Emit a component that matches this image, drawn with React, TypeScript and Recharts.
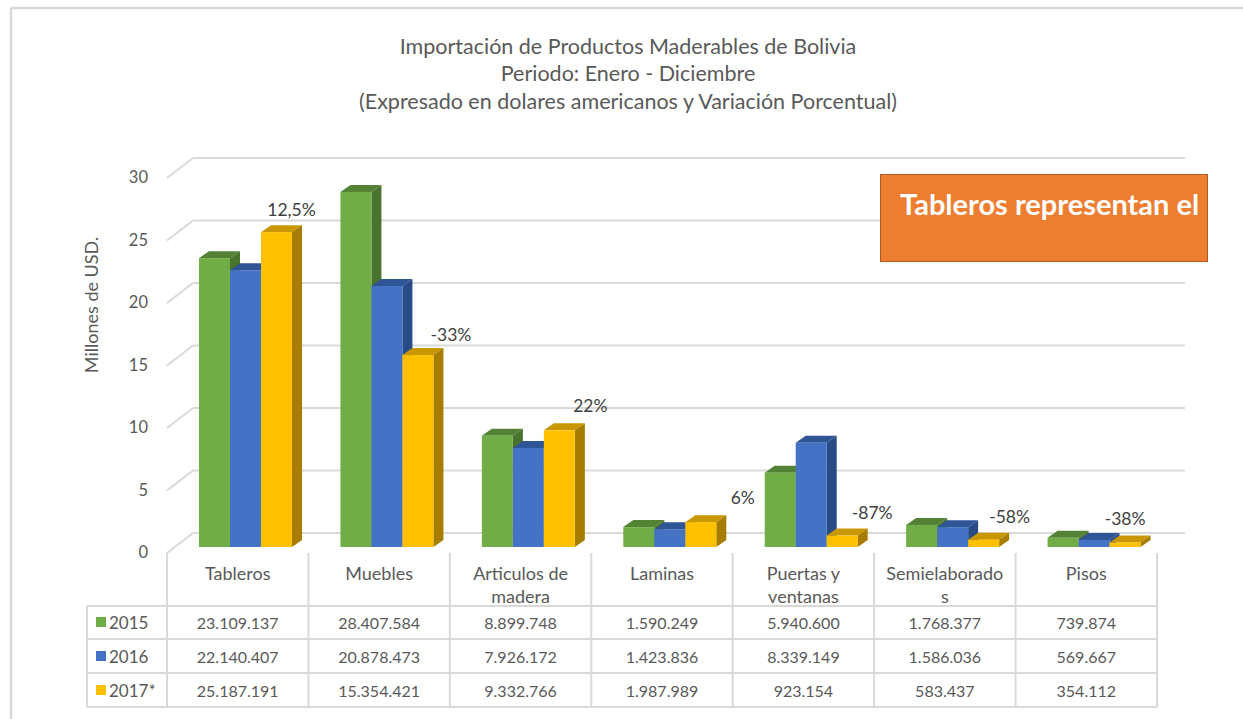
import { BarChart, Bar, XAxis, YAxis, CartesianGrid, LabelList } from "recharts";

// categories and values (USD), 2017 is preliminary
const CATEGORIES = [
  "Tableros",
  "Muebles",
  "Articulos de\nmadera",
  "Laminas",
  "Puertas y\nventanas",
  "Semielaborado\ns",
  "Pisos",
];
const Y2015 = [23109137, 28407584, 8899748, 1590249, 5940600, 1768377, 739874];
const Y2016 = [22140407, 20878473, 7926172, 1423836, 8339149, 1586036, 569667];
const Y2017 = [25187191, 15354421, 9332766, 1987989, 923154, 583437, 354112];
const VARIATION = ["12,5%", "-33%", "22%", "6%", "-87%", "-58%", "-38%"];
const Y_TICKS = [0, 5, 10, 15, 20, 25, 30];

// hand placed variation labels (relative to top of 2017 bar)
const LABEL_DX = [15, 33, 31, 42, 30, 26, 0];
const LABEL_DY = [-23, -21, -25, -25, -23, -23, -24];

const SERIES = [
  { key: "y2015", name: "2015", values: Y2015, front: "#70AD47", top: "#548235", side: "#4A732E" },
  { key: "y2016", name: "2016", values: Y2016, front: "#4472C4", top: "#2F5597", side: "#2A4C86" },
  { key: "y2017", name: "2017*", values: Y2017, front: "#FFC000", top: "#C99700", side: "#A67D00" },
];

const data = CATEGORIES.map((c, i) => ({
  name: c,
  y2015: Y2015[i] / 1e6,
  y2016: Y2016[i] / 1e6,
  y2017: Y2017[i] / 1e6,
}));

const FONT = "Lato, 'Open Sans', sans-serif";
const TEXT = "#595959";
const GRID = "#D9D9D9";
const DX = 10; // bar depth
const DY = 7;
const BAND = 990 / CATEGORIES.length;
const TABLE_TOP = 553;
const ROW_LINES = [606, 639, 673, 707];

const fmt = (n: number) => String(n).replace(/\B(?=(\d{3})+(?!\d))/g, ".");

function bar3d(front: string, top: string, side: string) {
  return (p: any) => {
    const { x, y, width: w, height: h } = p;
    if (w == null || h == null || isNaN(y)) return <g />;
    return (
      <g>
        <polygon points={`${x},${y} ${x + DX},${y - DY} ${x + w + DX},${y - DY} ${x + w},${y}`} fill={top} />
        <polygon
          points={`${x + w},${y} ${x + w + DX},${y - DY} ${x + w + DX},${y + h - DY} ${x + w},${y + h}`}
          fill={side}
        />
        <rect x={x} y={y} width={w} height={h} fill={front} />
      </g>
    );
  };
}

function GridLine(p: any) {
  const { x1, x2, y1 } = p;
  return (
    <g>
      <line x1={x1 - 8} y1={y1 + 6} x2={x1 + 18} y2={y1 - 14} stroke={GRID} strokeWidth={2} />
      <line x1={x1 + 18} y1={y1 - 14} x2={x2 + 20} y2={y1 - 14} stroke={GRID} strokeWidth={2} />
    </g>
  );
}

function YTick(p: any) {
  const { y, payload } = p;
  return (
    <text x={148} y={y + 5} textAnchor="end" dominantBaseline="central" fontSize={16.5} fill={TEXT} fontFamily={FONT}>
      {payload.value}
    </text>
  );
}

function TableColumn(p: any) {
  const { x, index } = p;
  const cx = x - 8;
  const left = cx - BAND / 2;
  const lines = CATEGORIES[index].split("\n");
  const rows = [Y2015, Y2016, Y2017];
  return (
    <g fontFamily={FONT} fill={TEXT}>
      <line x1={left} y1={TABLE_TOP} x2={left} y2={707} stroke={GRID} strokeWidth={2} />
      {index === CATEGORIES.length - 1 && (
        <line x1={left + BAND} y1={TABLE_TOP} x2={left + BAND} y2={707} stroke={GRID} strokeWidth={2} />
      )}
      {lines.map((l, i) => (
        <text key={i} x={cx} y={573 + i * 23} textAnchor="middle" dominantBaseline="central" fontSize={18}>
          {l}
        </text>
      ))}
      {rows.map((r, i) => (
        <text key={"v" + i} x={cx} y={622 + i * 34} textAnchor="middle" dominantBaseline="central" fontSize={16}>
          {fmt(r[index])}
        </text>
      ))}
    </g>
  );
}

function VariationLabel(p: any) {
  const { x, y, width, index } = p;
  return (
    <text
      x={x + width / 2 + LABEL_DX[index]}
      y={y + LABEL_DY[index]}
      textAnchor="middle"
      dominantBaseline="central"
      fontSize={17.5}
      fill="#404040"
      fontFamily={FONT}
    >
      {VARIATION[index]}
    </text>
  );
}

export default function App() {
  return (
    <div style={{ position: "absolute", left: 0, top: 0, width: 1243, height: 719, background: "#fff" }}>
      <svg width={1243} height={719} style={{ position: "absolute", left: 0, top: 0 }}>
        <line x1={11} y1={8} x2={1243} y2={8} stroke={GRID} strokeWidth={2.5} />
        <line x1={11} y1={8} x2={11} y2={719} stroke={GRID} strokeWidth={2.5} />
        <g fontFamily={FONT} fill={TEXT} fontSize={21.5} textAnchor="middle">
          <text x={628} y={46} dominantBaseline="central">Importación de Productos Maderables de Bolivia</text>
          <text x={628} y={73} dominantBaseline="central">Periodo: Enero - Diciembre</text>
          <text x={628} y={101} dominantBaseline="central">(Expresado en dolares americanos y Variación Porcentual)</text>
        </g>
        <text
          x={91}
          y={305}
          transform="rotate(-90 91 305)"
          textAnchor="middle"
          dominantBaseline="central"
          fontFamily={FONT}
          fontSize={18}
          fill={TEXT}
        >
          Millones de USD.
        </text>
        {ROW_LINES.map((y) => (
          <line key={y} x1={87} y1={y} x2={1157} y2={y} stroke={GRID} strokeWidth={2} />
        ))}
        <line x1={87} y1={606} x2={87} y2={707} stroke={GRID} strokeWidth={2} />
        {SERIES.map((s, i) => (
          <g key={s.key}>
            <rect x={96} y={617 + i * 34} width={10} height={10} fill={s.front} />
            <text x={109} y={622 + i * 34} dominantBaseline="central" fontFamily={FONT} fontSize={17} fill={TEXT}>
              {s.name}
            </text>
          </g>
        ))}
      </svg>
      <div style={{ position: "absolute", left: 0, top: 0 }}>
        <BarChart
          width={1243}
          height={719}
          data={data}
          margin={{ top: 172, right: 78, bottom: 22, left: 115 }}
          barGap={0}
          barSize={31}
        >
          <CartesianGrid vertical={false} horizontal={(p: any) => <GridLine key={p.key} {...p} />} />
          <XAxis dataKey="name" height={150} axisLine={false} tickLine={false} interval={0} tick={TableColumn} />
          <YAxis width={60} domain={[0, 30]} ticks={Y_TICKS} axisLine={false} tickLine={false} tick={YTick} />
          {SERIES.map((s) => (
            <Bar key={s.key} dataKey={s.key} name={s.name} isAnimationActive={false} shape={bar3d(s.front, s.top, s.side)}>
              {s.key === "y2017" && <LabelList dataKey="y2017" content={VariationLabel} />}
            </Bar>
          ))}
        </BarChart>
      </div>
      <div
        style={{
          position: "absolute",
          left: 880,
          top: 174,
          width: 328,
          height: 88,
          boxSizing: "border-box",
          background: "#ED7D31",
          border: "1.5px solid #AE5A21",
          color: "#fff",
          fontFamily: FONT,
          fontWeight: 700,
          fontSize: 29,
          paddingLeft: 19,
          paddingTop: 11,
          whiteSpace: "nowrap",
          overflow: "hidden",
        }}
      >
        Tableros representan el
      </div>
    </div>
  );
}
